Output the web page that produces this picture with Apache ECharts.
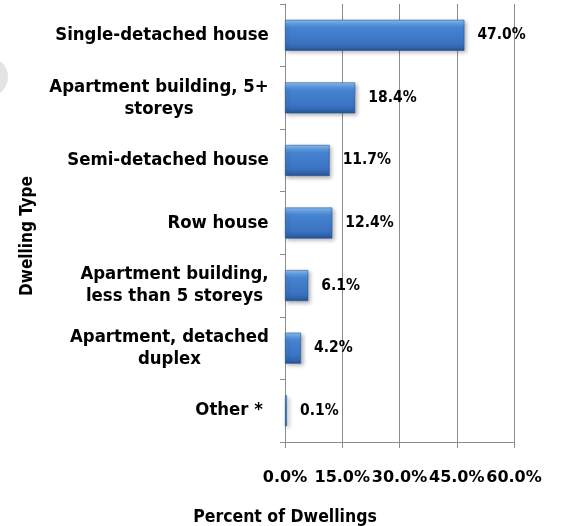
<!DOCTYPE html>
<html>
<head>
<meta charset="utf-8">
<script src="https://cdn.jsdelivr.net/npm/echarts@6/dist/echarts.min.js"></script>
<style>
  html, body { margin: 0; padding: 0; background: #fff; }
  #chart { width: 562px; height: 526px; }
</style>
</head>
<body>
<div id="chart"></div>
<script>
const categories = [
  "Single-detached house",
  "Apartment building, 5+\nstoreys",
  "Semi-detached house",
  "Row house",
  "Apartment building,\nless than 5 storeys",
  "Apartment, detached\nduplex",
  "Other * "
];
const values = [47.0, 18.4, 11.7, 12.4, 6.1, 4.2, 0.1];
const xTicks = [0, 15, 30, 45, 60];

const FONT = '"DejaVu Sans Condensed", "DejaVu Sans", sans-serif';
const labelSize = 18.4;

// multi-line labels: lines centred inside a right-aligned block
const ctx = document.createElement("canvas").getContext("2d");
ctx.font = "bold " + labelSize + "px " + FONT;
const rich = {};
categories.forEach((c, i) => {
  const w = Math.max(...c.split("\n").map((l) => ctx.measureText(l).width));
  rich["r" + i] = { width: Math.ceil(w), align: "center", fontWeight: "bold",
    fontSize: labelSize, fontFamily: FONT, color: "#000", lineHeight: 22 };
});

const mChart = echarts.init(document.getElementById("chart"));

const options = {
  animation: false,
  grid: { left: 285, right: 48, top: 4, bottom: 84 },
  xAxis: {
    type: "value",
    min: xTicks[0],
    max: xTicks[xTicks.length - 1],
    interval: 15,
    axisLine: { show: true, lineStyle: { color: "#8c8c8c", width: 1 } },
    axisTick: { show: true, length: 6, lineStyle: { color: "#8c8c8c" } },
    splitLine: { show: true, lineStyle: { color: "#8c8c8c", width: 1 } },
    axisLabel: {
      margin: 28,
      color: "#000",
      fontWeight: "bold",
      fontSize: 16,
      fontFamily: '"DejaVu Sans", sans-serif',
      formatter: (v) => v.toFixed(1) + "%",
    },
  },
  yAxis: {
    type: "category",
    inverse: true,
    data: categories,
    axisLine: { show: true, lineStyle: { color: "#8c8c8c", width: 1 } },
    axisTick: { show: true, length: 5, lineStyle: { color: "#8c8c8c" } },
    axisLabel: {
      margin: 16,
      formatter: (v) => {
        const i = categories.indexOf(v);
        return v.split("\n").map((l) => "{r" + i + "|" + l + "}").join("\n");
      },
      rich: rich,
    },
  },
  series: [
    {
      type: "bar",
      data: values,
      barWidth: 31,
      barMinHeight: 2,
      itemStyle: {
        color: new echarts.graphic.LinearGradient(0, 0, 0, 1, [
          { offset: 0, color: "#8cc0f2" },
          { offset: 0.14, color: "#5e9ae0" },
          { offset: 0.25, color: "#4683d0" },
          { offset: 0.75, color: "#3a73c2" },
          { offset: 0.9, color: "#3164ad" },
          { offset: 1, color: "#24508c" },
        ]),
        borderColor: "#2c5b98",
        borderWidth: 0.6,
        shadowColor: "rgba(0,0,0,0.3)",
        shadowBlur: 4,
        shadowOffsetX: 2,
        shadowOffsetY: 2,
      },
      label: {
        show: true,
        position: "right",
        distance: 13,
        color: "#000",
        fontWeight: "bold",
        fontSize: 15.5,
        fontFamily: FONT,
        formatter: (p) => p.value.toFixed(1) + "%",
      },
    },
  ],
  graphic: [
    {
      type: "circle",
      shape: { cx: -12, cy: 77, r: 20 },
      style: { fill: "#e4e4e4" },
      silent: true,
    },
    {
      type: "text",
      x: 28,
      y: 236,
      rotation: Math.PI / 2,
      style: {
        text: "Dwelling Type",
        fill: "#000",
        font: "bold 17px " + FONT,
        align: "center",
        verticalAlign: "middle",
      },
    },
    {
      type: "text",
      x: 285,
      y: 517,
      style: {
        text: "Percent of Dwellings",
        fill: "#000",
        font: "bold 17.5px " + FONT,
        align: "center",
        verticalAlign: "middle",
      },
    },
  ],
};
mChart.setOption(options);
</script>
</body>
</html>
